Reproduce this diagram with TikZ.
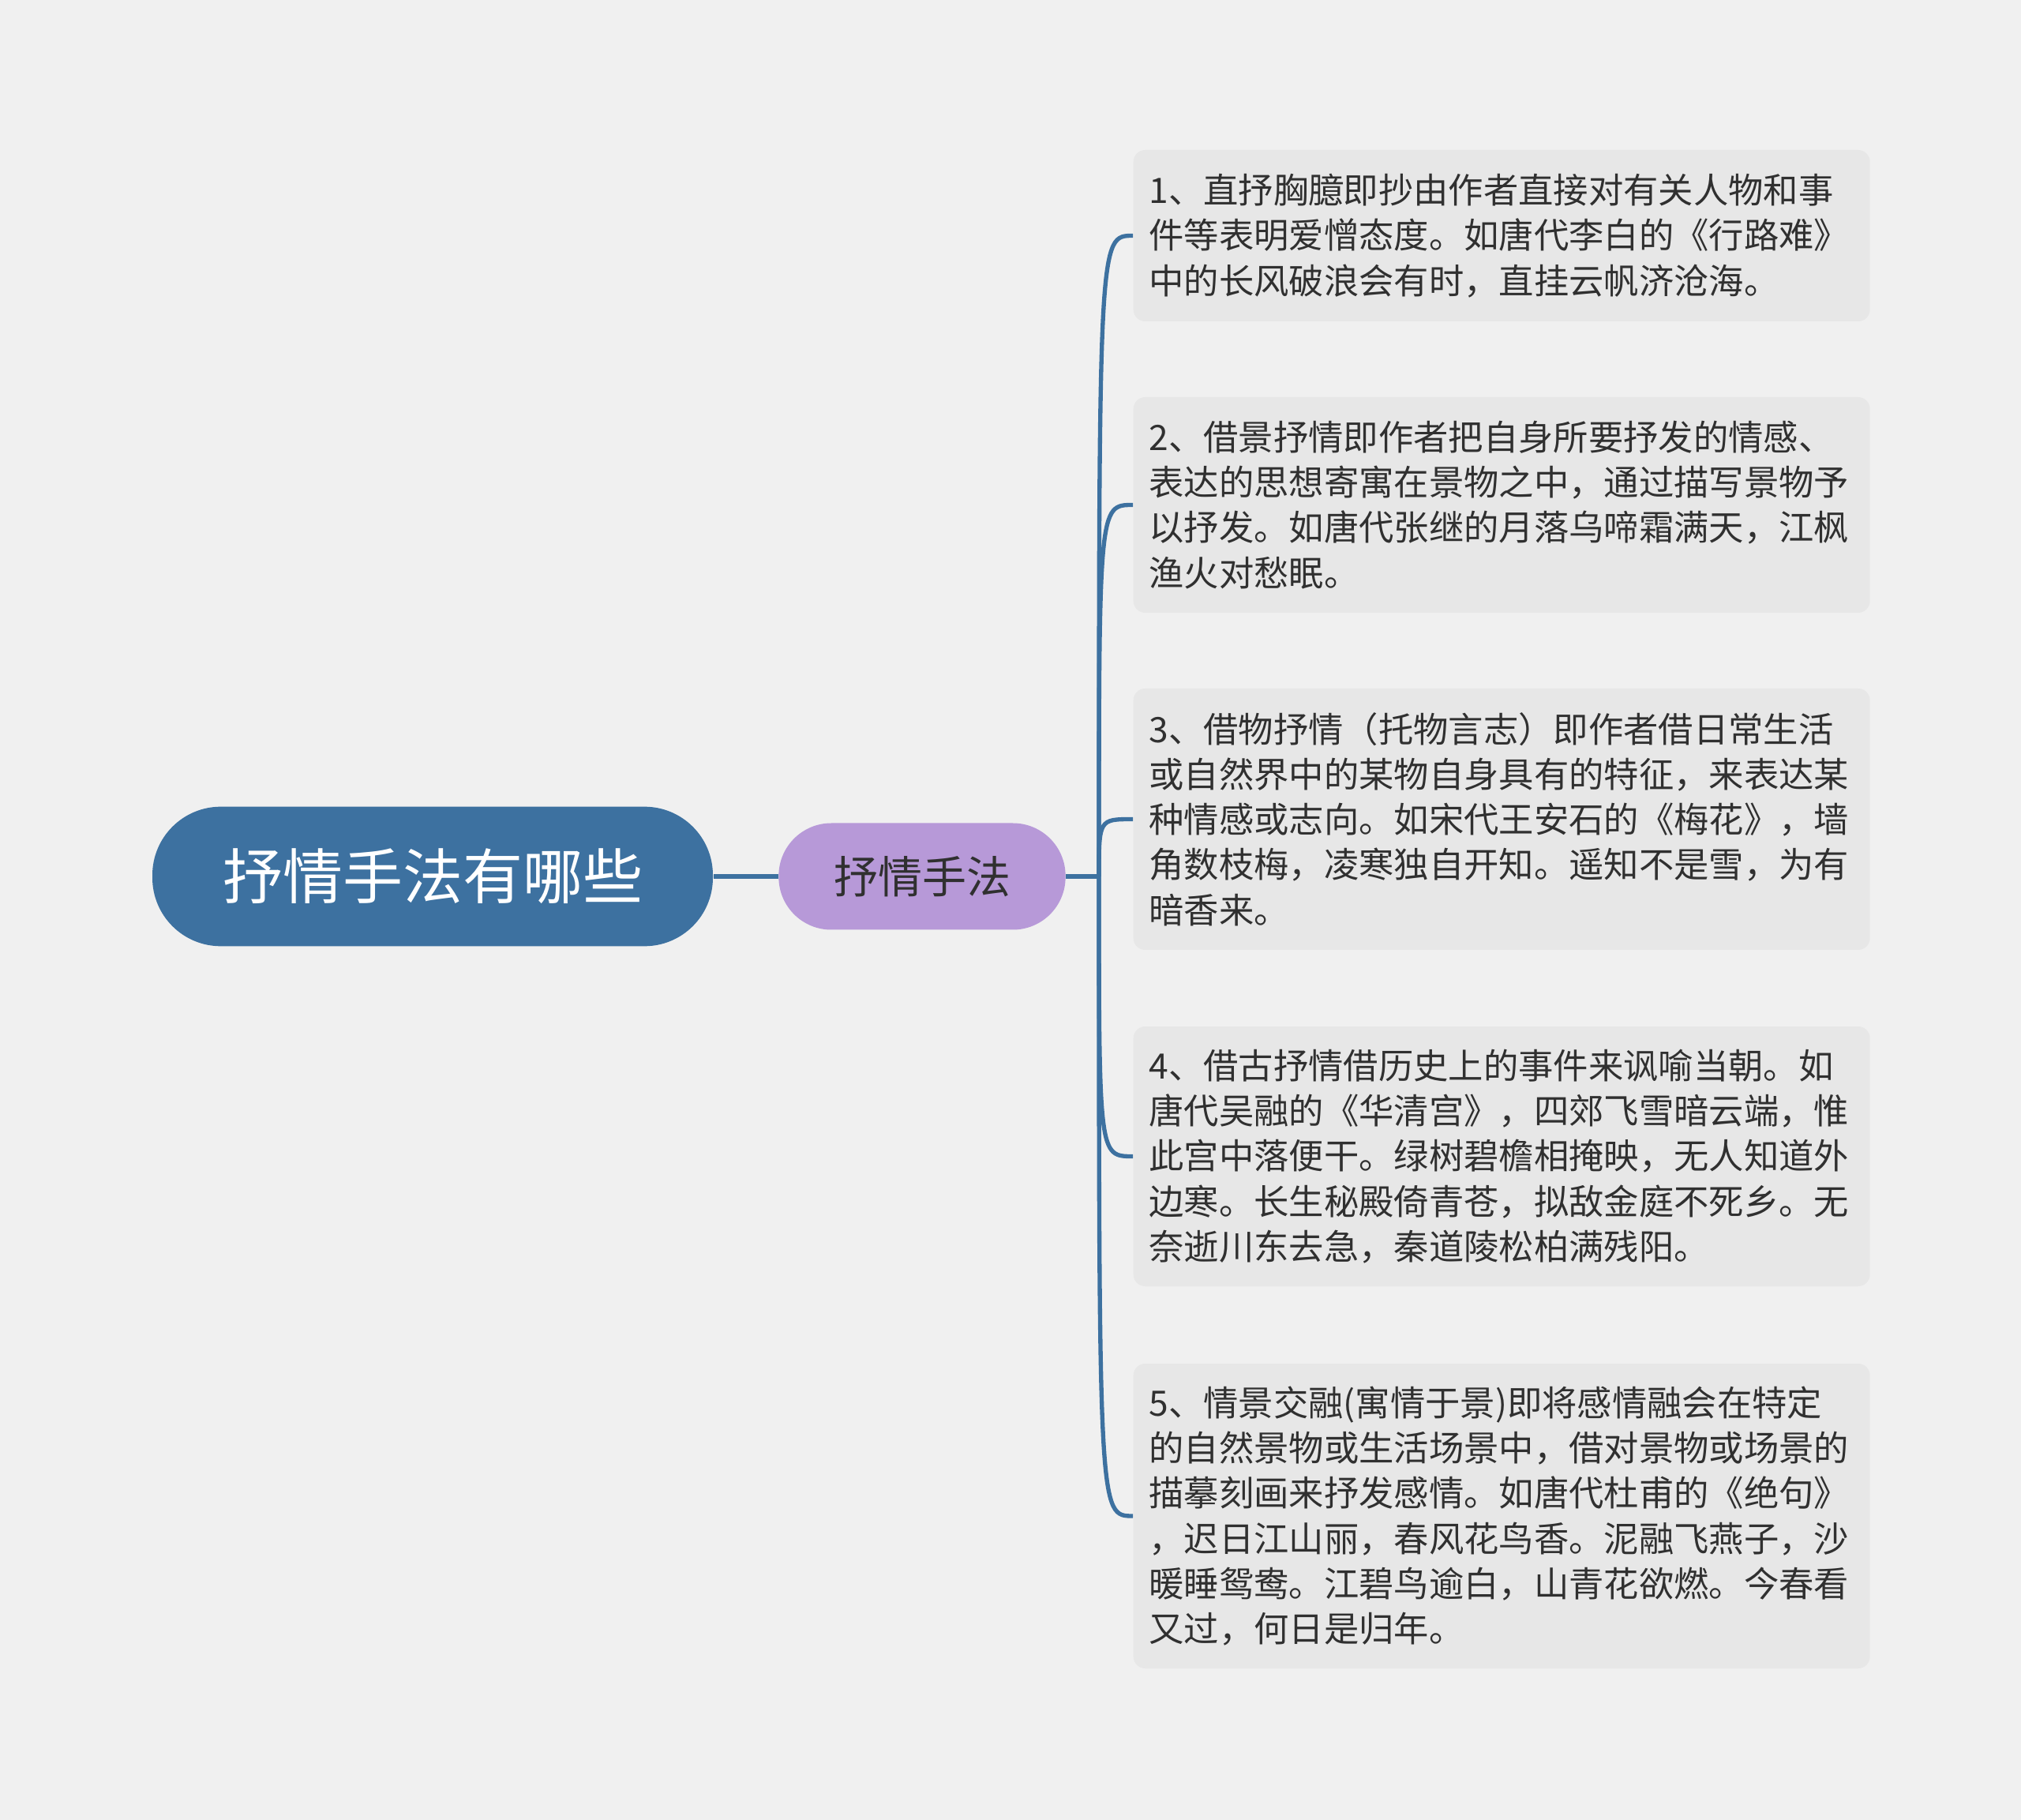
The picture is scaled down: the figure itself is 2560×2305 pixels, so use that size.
\documentclass[tikz,border=0pt]{standalone}
\usepackage{fontspec}
\usepackage{tikz}
\newfontfamily\cjk{Noto Sans CJK SC}
\definecolor{bgcol}{HTML}{F0F0F0}
\definecolor{rootblue}{HTML}{3D71A0}
\definecolor{lilac}{HTML}{B799D8}
\definecolor{boxgray}{HTML}{E7E7E7}
\definecolor{txt}{HTML}{303030}
\tikzstyle{rootnode} = [rounded corners=26pt, fill=rootblue, text=white, minimum width=213pt, minimum height=53pt, inner sep=0pt, font=\cjk\fontsize{22.8}{27}\selectfont]
\tikzstyle{topicnode} = [rounded corners=20pt, fill=lilac, text=txt, minimum width=109pt, minimum height=40.5pt, inner sep=0pt, font=\cjk\fontsize{16.8}{20}\selectfont]
\tikzstyle{leaf} = [anchor=west, rounded corners=4.5pt, fill=boxgray, text=txt, text width=268pt, align=left, inner xsep=5.95pt, inner ysep=0pt, font=\cjk\fontsize{13.3}{17.16}\selectfont]
\tikzstyle{branch} = [line width=1.6pt, rootblue]

\begin{document}
\begin{tikzpicture}[x=0.3pt,y=-0.3pt]
				\fill[bgcol] (0,0) rectangle (2560,2305);
				\node[rootnode] (lyric) at (548,1110) {抒情手法有哪些};
				\node[topicnode] (method) at (1168,1110) {抒情手法};
				\coordinate (trunk) at (1392,1110);
				\node[leaf, minimum height=65.1pt] (way1) at (1435,298.5) {1、直抒胸臆即抄由作者直接对有关人物和事\\件等表明爱憎态度。如唐代李白的《行路难》\\中的长风破浪会有时，直挂云帆济沧海。};
				\node[leaf, minimum height=81.9pt] (way2) at (1435,639.5) {2、借景抒情即作者把自身所要抒发的情感、\\表达的思想寄寓在景物之中，通过描写景物予\\以抒发。如唐代张继的月落乌啼霜满天，江枫\\渔火对愁眠。};
				\node[leaf, minimum height=99.3pt] (way3) at (1435,1037.5) {3、借物抒情（托物言志）即作者借日常生活\\或自然界中的某物自身具有的特征，来表达某\\种情感或志向。如宋代王安石的《梅花》，墙\\角数枝梅，凌寒独自开知。遥知不是雪，为有\\暗香来。};
				\node[leaf, minimum height=98.7pt] (way4) at (1435,1464.5) {4、借古抒情借历史上的事件来讽喻当朝。如\\唐代吴融的《华清宫》，四郊飞雪暗云端，惟\\此宫中落便干。绿树碧檐相掩映，无人知道外\\边寒。长生秘殿倚青苍，拟敌金庭不死乡。无\\奈逝川东去急，秦道陵松柏满残阳。};
				\node[leaf, minimum height=115.8pt] (way5) at (1435,1920) {5、情景交融(寓情于景)即将感情融会在特定\\的自然景物或生活场景中，借对景物或场景的\\描摹刻画来抒发感情。如唐代杜甫的《绝句》\\，迟日江山丽，春风花鸟香。泥融飞燕子，沙\\暖睡鸳鸯。江碧鸟逾白，山青花欲燃。今春看\\又过，何日是归年。};
				\draw[branch] (lyric.east) -- (method.west);
				\draw[branch] (method.east) -- (trunk);
				\foreach \w in {way1,way2,way3,way4,way5}
					\draw[branch] (trunk) .. controls (trunk |- \w.west) .. (\w.west);
			\end{tikzpicture}
\end{document}
